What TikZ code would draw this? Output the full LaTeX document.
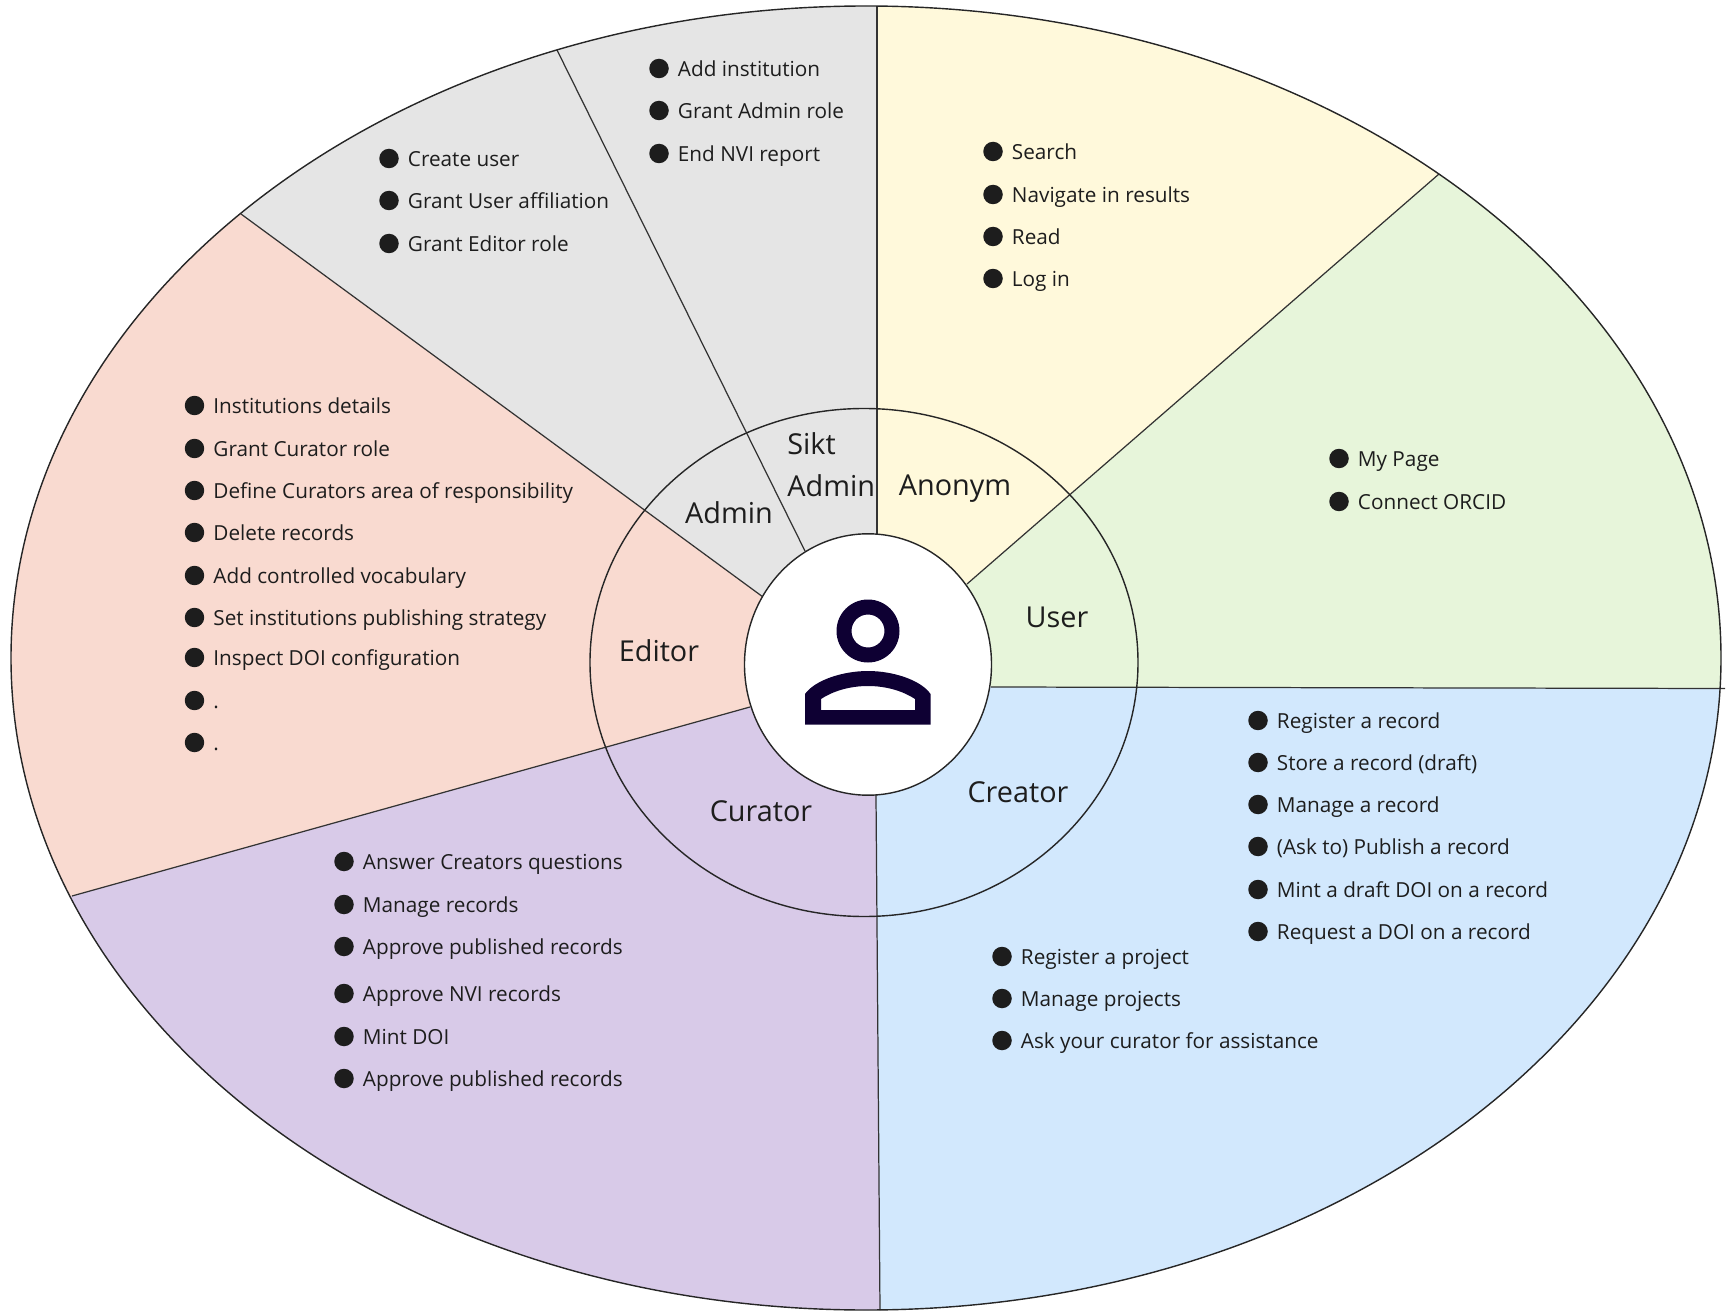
\documentclass[tikz,border=0pt]{standalone}
\usepackage{fontspec}
\setmainfont{Open Sans}
\usetikzlibrary{positioning}
\definecolor{yellowrole}{HTML}{FFF9DB}
\definecolor{greenrole}{HTML}{E7F5DA}
\definecolor{bluerole}{HTML}{D2E8FD}
\definecolor{purplerole}{HTML}{D8CAE8}
\definecolor{peachrole}{HTML}{F9DAD0}
\definecolor{greyrole}{HTML}{E5E5E5}
\definecolor{inktext}{HTML}{1D1D1D}
\definecolor{iconink}{HTML}{0E0033}

\begin{document}
\begin{tikzpicture}[
    x=0.02cm, y=-0.02cm,
    node distance=0.17cm,
    bullet/.style={circle, fill=inktext, inner sep=0pt, minimum size=0.39cm, yshift=-0.01cm},
    item/.style={inner sep=0pt, text=inktext, text height=0.74em, text depth=0.22em, yshift=-0.065cm, font=\fontsize{11.8}{14}\selectfont},
    role/.style={inner sep=0pt, text=inktext, align=left, font=\fontsize{16.4}{23.75}\selectfont},
    spoke/.style={draw=black!80, line width=0.7pt},
    ring/.style={draw=black!85, line width=0.8pt}
]
\useasboundingbox (0,0) rectangle (1729,1311);

% --- Spoke ends
\coordinate (c) at (868,665);
\coordinate (topin) at (877,534);
\coordinate (topout) at (877,6);
\coordinate (upin) at (967,584);
\coordinate (upout) at (1439,174);
\coordinate (rightin) at (991,687);
\coordinate (rightout) at (1725,688.5);
\coordinate (downin) at (876,795);
\coordinate (downout) at (880,1310);
\coordinate (lowin) at (750,707);
\coordinate (lowout) at (72,896);
\coordinate (adminin) at (763,597);
\coordinate (adminout) at (241,214);
\coordinate (siktin) at (805,551);
\coordinate (siktout) at (557,50);

% --- Sectors, cut by the outer ellipse
\begin{scope}
    \clip (866,658) ellipse (855 and 652);
    \fill[yellowrole] (c) -- (topin) -- (topout) -- (877,-20) -- (1439,-20) -- (upout) -- (upin) -- cycle;
    \fill[greenrole] (c) -- (upin) -- (upout) -- (1729,174) -- (1729,688.5) -- (rightout) -- (rightin) -- cycle;
    \fill[bluerole] (c) -- (rightin) -- (rightout) -- (1729,688.5) -- (1729,1320) -- (880,1320) -- (downout) -- (downin) -- cycle;
    \fill[purplerole] (c) -- (downin) -- (downout) -- (880,1320) -- (0,1320) -- (0,896) -- (lowout) -- (lowin) -- cycle;
    \fill[peachrole] (c) -- (lowin) -- (lowout) -- (0,896) -- (0,214) -- (adminout) -- (adminin) -- cycle;
    \fill[greyrole] (c) -- (adminin) -- (adminout) -- (241,-20) -- (877,-20) -- (topout) -- (topin) -- cycle;
\end{scope}

% --- Spokes
\foreach \from/\to in {topin/topout, upin/upout, rightin/rightout, downin/downout, lowin/lowout, adminin/adminout, siktin/siktout}
    \draw[spoke] (\from) -- (\to);

% --- Rings
\draw[ring] (866,658) ellipse (855 and 652);
\draw[ring] (864,662.5) ellipse (274 and 254);
\draw[ring, fill=white] (868,664.5) ellipse (123.5 and 130.7);

% --- Person icon
\fill[iconink, even odd rule] (868,631) circle (31.5) (868,631) circle (16.5);
\fill[iconink, even odd rule]
    (805,724.6) -- (805,694) .. controls (815,680) and (843,671) .. (868,671)
    .. controls (893,671) and (921,680) .. (930.5,694) -- (930.5,724.6) -- cycle
    (821,710) -- (821,699) .. controls (833,691) and (850,686) .. (868,686)
    .. controls (886,686) and (903,691) .. (915,699) -- (915,710) -- cycle;

% --- Role names
\node[role] (anonym) at (955,489) {Anonym};
\node[role] (user) at (1057,617) {User};
\node[role] (creator) at (1018,792) {Creator};
\node[role] (curator) at (761,811) {Curator};
\node[role] (editor) at (659,651) {Editor};
\node[role] (admin) at (729,513) {Admin};
\node[role, anchor=west] (sikt) at (787,465) {Sikt\\Admin};

% --- Lists
\foreach \y/\txt in {68/Add institution, 110/Grant Admin role, 153/End NVI report}{
    \node[bullet] (sikt\y) at (659,\y) {};
    \node[item, right=of sikt\y] (siktitem\y) {\txt};
}
\foreach \y/\txt in {158/Create user, 200/Grant User affiliation, 243/Grant Editor role}{
    \node[bullet] (admin\y) at (389,\y) {};
    \node[item, right=of admin\y] (adminitem\y) {\txt};
}
\foreach \y/\txt in {151/Search, 194/Navigate in results, 236/Read, 278/Log in}{
    \node[bullet] (anon\y) at (993,\y) {};
    \node[item, right=of anon\y] (anonitem\y) {\txt};
}
\foreach \y/\txt in {458/My Page, 501/Connect ORCID}{
    \node[bullet] (user\y) at (1339,\y) {};
    \node[item, right=of user\y] (useritem\y) {\txt};
}
\foreach \y/\txt in {720/Register a record, 762/Store a record (draft), 804/Manage a record, 846/(Ask to) Publish a record, 889/Mint a draft DOI on a record, 931/Request a DOI on a record}{
    \node[bullet] (rec\y) at (1258,\y) {};
    \node[item, right=of rec\y] (recitem\y) {\txt};
}
\foreach \y/\txt in {956/Register a project, 998/Manage projects, 1040/Ask your curator for assistance}{
    \node[bullet] (proj\y) at (1002,\y) {};
    \node[item, right=of proj\y] (projitem\y) {\txt};
}
\foreach \y/\txt in {861/Answer Creators questions, 904/Manage records, 946/Approve published records, 993/Approve NVI records, 1036/Mint DOI, 1078/Approve published records}{
    \node[bullet] (cur\y) at (344,\y) {};
    \node[item, right=of cur\y] (curitem\y) {\txt};
}
\foreach \y/\txt in {405/Institutions details, 448/Grant Curator role, 490/Define Curators area of responsibility, 532/Delete records, 575/Add controlled vocabulary, 617/Set institutions publishing strategy, 657/Inspect DOI configuration, 700/., 742/.}{
    \node[bullet] (edit\y) at (194.5,\y) {};
    \node[item, right=of edit\y] (edititem\y) {\txt};
}
\end{tikzpicture}
\end{document}
